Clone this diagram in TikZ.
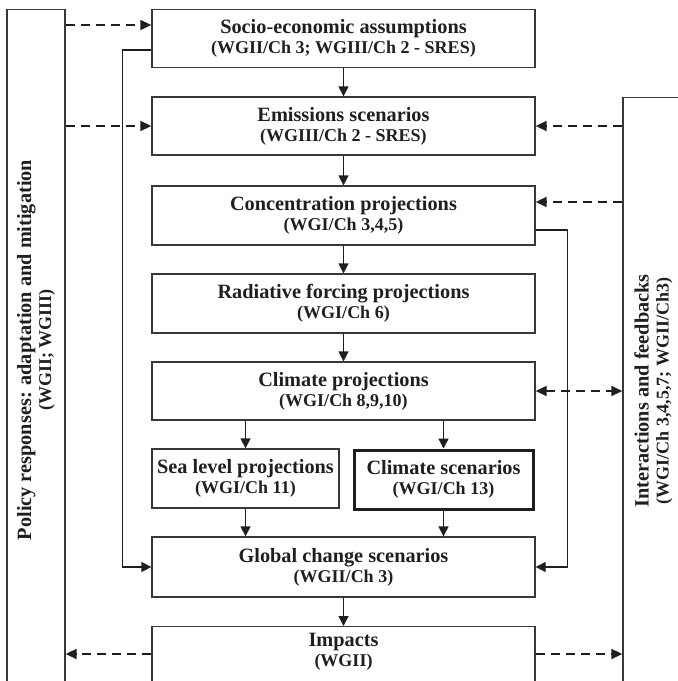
\documentclass[tikz,border=0pt]{standalone}
\usepackage{fontspec}
\setmainfont{Liberation Serif}
\usetikzlibrary{arrows.meta,calc}
\newcommand{\twoline}[2]{{\fontsize{20.3}{20}\selectfont #1}\\{\fontsize{18}{20}\selectfont #2}}
\definecolor{ink}{gray}{0.12}
\definecolor{edge}{gray}{0.22}
\begin{document}
\begin{tikzpicture}[x=1pt,y=-1pt,
  box/.style={draw=edge, line width=1.3pt, minimum width=383pt, minimum height=58pt,
    align=center, inner sep=0pt, font=\fontsize{18}{20}\selectfont\bfseries, text=ink},
  panel/.style={draw=edge, line width=1.3pt, inner sep=0pt, anchor=north},
  lbl/.style={align=center, inner sep=0pt, font=\fontsize{18}{20}\selectfont\bfseries, text=ink},
  arr/.style={draw=ink, line width=1.3pt, -{Triangle[length=10pt,width=10pt]}},
  darr/.style={draw=ink, line width=1.6pt, dash pattern=on 9pt off 6pt, -{Triangle[length=11pt,width=10pt]}},
  dbarr/.style={draw=ink, line width=1.6pt, dash pattern=on 9pt off 6pt, {Triangle[length=11pt,width=10pt]}-{Triangle[length=11pt,width=10pt]}}
]
\clip (0,0) rectangle (678,681);
\fill[white] (0,0) rectangle (678,681);

% side panels
\node[panel, minimum width=58pt, minimum height=720pt] (lp) at (36,9) {};
\node[panel, minimum width=61pt, minimum height=650pt] (rp) at (653.5,97) {};
\node[lbl, rotate=90] (lpt) at (36,350) {\twoline{Policy responses: adaptation and mitigation}{(WGII; WGIII)}};
\node[lbl, rotate=90] (rpt) at (653.5,391) {\twoline{Interactions and feedbacks}{(WGI/Ch 3,4,5,7; WGII/Ch3)}};

% main chain
\node[box] (socio) at (343.5,38.5) {\twoline{Socio-economic assumptions}{(WGII/Ch 3; WGIII/Ch 2 - SRES)}};
\node[box] (emis) at (343.5,126) {\twoline{Emissions scenarios}{(WGIII/Ch 2 - SRES)}};
\node[box, minimum height=59pt] (conc) at (343.5,215.5) {\twoline{Concentration projections}{(WGI/Ch 3,4,5)}};
\node[box, minimum height=59pt] (rad) at (343.5,303.5) {\twoline{Radiative forcing projections}{(WGI/Ch 6)}};
\node[box] (clim) at (343.5,391) {\twoline{Climate projections}{(WGI/Ch 8,9,10)}};
\node[box, minimum width=187pt, minimum height=59pt] (sea) at (245.5,478.5) {\twoline{Sea level projections}{(WGI/Ch 11)}};
\node[box, minimum width=179pt, minimum height=59pt, line width=3pt, draw=ink] (cscen) at (443.5,479.5) {\twoline{Climate scenarios}{(WGI/Ch 13)}};
\node[box, minimum height=60pt] (glob) at (343.5,567) {\twoline{Global change scenarios}{(WGII/Ch 3)}};
\node[box, minimum height=100pt, anchor=north] (imp) at (343.5,626) {};
\node[lbl] (impt) at (343.5,652) {\twoline{Impacts}{(WGII)}};

% solid arrows
\draw[arr] (socio) -- (emis);
\draw[arr] (emis) -- (conc);
\draw[arr] (conc) -- (rad);
\draw[arr] (rad) -- (clim);
\draw[arr] (clim.south -| sea.north) -- (sea.north);
\draw[arr] (clim.south -| cscen.north) -- (cscen.north);
\draw[arr] (sea.south) -- (sea.south |- glob.north);
\draw[arr] (cscen.south) -- (cscen.south |- glob.north);
\draw[arr] (glob) -- (imp.north);
\draw[arr] ([yshift=-11.5pt]socio.west) -- ++(-29,0) |- (glob.west);
\draw[arr] ([yshift=-14.5pt]conc.east) -- ++(32,0) |- (glob.east);

% dashed arrows
\coordinate (s1) at ([yshift=13.5pt]socio.west);
\draw[darr] (lp.east |- s1) -- (s1);
\draw[darr] (lp.east |- emis.west) -- (emis.west);
\draw[darr] (rp.west |- emis.east) -- (emis.east);
\coordinate (c1) at ([yshift=13.5pt]conc.east);
\draw[darr] (rp.west |- c1) -- (c1);
\draw[dbarr] (clim.east) -- (rp.west |- clim.east);
\coordinate (i1) at ([yshift=-28pt]imp.north west);
\coordinate (i2) at ([yshift=-28pt]imp.north east);
\draw[darr] (i1) -- (lp.east |- i1);
\draw[darr] (i2) -- (rp.west |- i2);
\end{tikzpicture}
\end{document}
